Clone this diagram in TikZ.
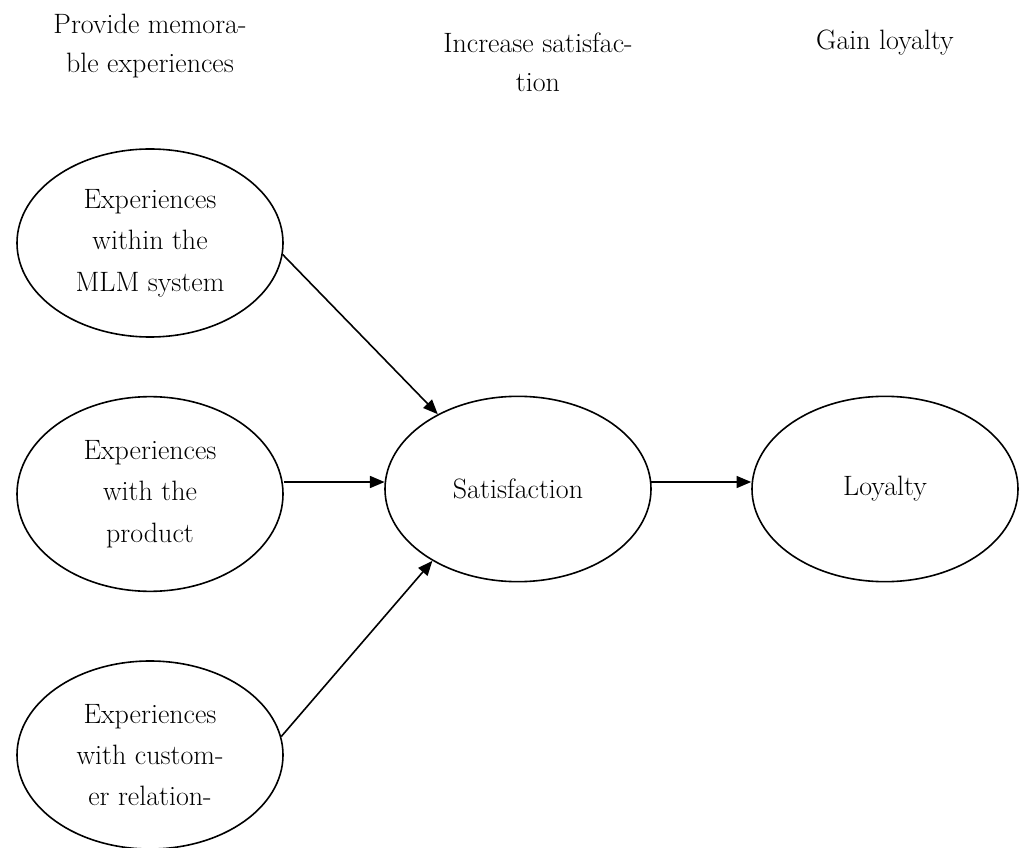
\documentclass[tikz,border=0pt]{standalone}
\usepackage{tikz}
\usetikzlibrary{shapes.geometric,arrows.meta}

\tikzset{
  construct/.style={draw,ellipse,line width=1.2pt,minimum width=199.5pt,minimum height=141pt,inner sep=0pt,align=center,font=\fontsize{21}{31}\selectfont},
  heading/.style={align=center,inner sep=0pt,font=\fontsize{21}{29}\selectfont},
  link/.style={line width=1.2pt,-{Triangle[length=11pt,width=9pt]}}
}

\begin{document}
\begin{tikzpicture}[x=0.75pt,y=0.75pt,yscale=-1,xscale=1]
\useasboundingbox (0,0) rectangle (1021,848);

% Headings
\node[heading] (hexp) at (150,46) {Provide memora-\\ble experiences};
\node[heading] (hsat) at (538,62) {Increase satisfac-\\tion};
\node[heading] (hloy) at (885,43) {Gain loyalty};

% Constructs
\node[construct] (sys) at (150,243) {Experiences\\within the\\MLM system};
\node[construct,minimum height=146pt] (prod) at (150,494) {Experiences\\with the\\product};
\node[construct] (rel) at (150,755) {Experiences\\with custom-\\er relation-};
\node[construct,minimum height=139pt] (sat) at (518,489) {Satisfaction};
\node[construct,minimum height=139pt] (loy) at (885,489) {Loyalty};

% Paths
\draw[link] (sys.-5.5) -- (sat.137.6);
\draw[link] (sat.177 -| prod.east) -- (sat.177);
\draw[link] (rel.8.5) -- (sat.220.1);
\draw[link] (sat.3) -- (sat.3 -| loy.west);
\end{tikzpicture}
\end{document}
